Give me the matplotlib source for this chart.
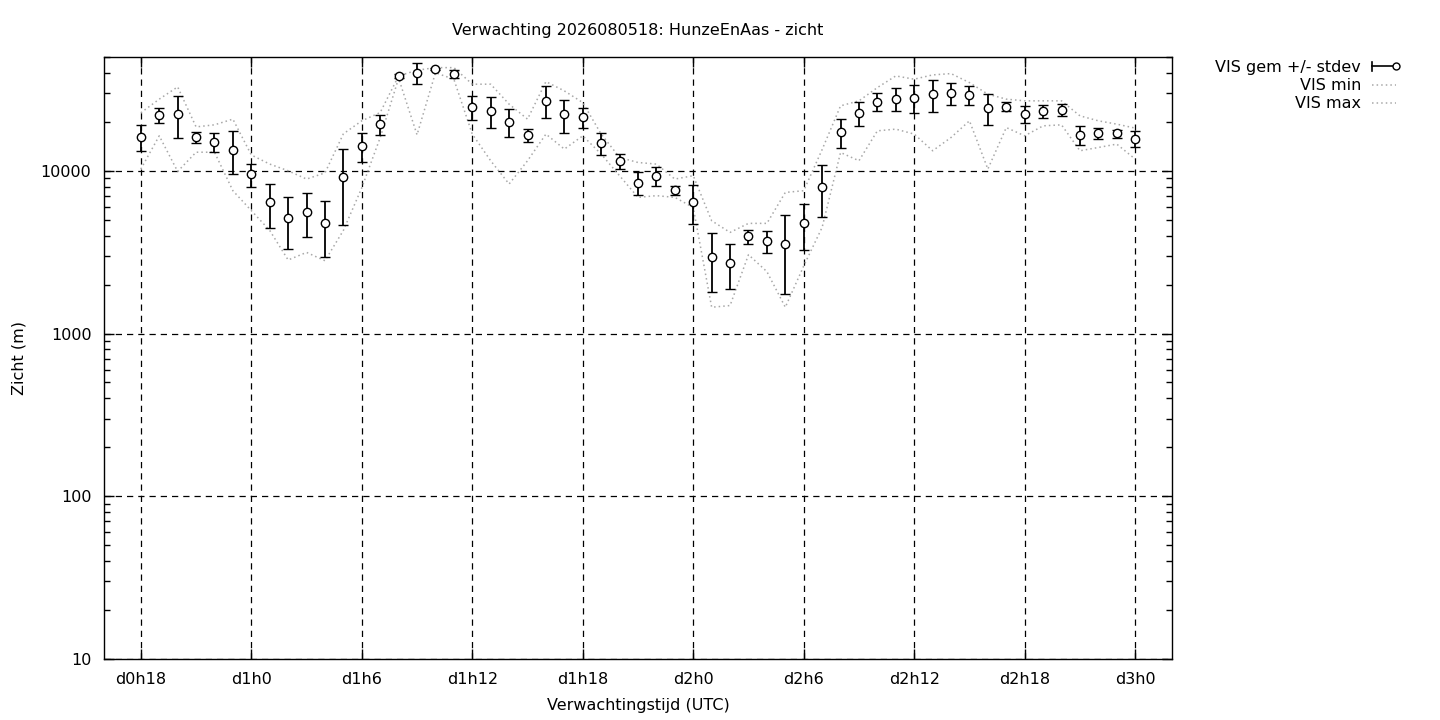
import numpy as np
import matplotlib
matplotlib.use('Agg')
import matplotlib.pyplot as plt
from matplotlib.lines import Line2D
from matplotlib.legend_handler import HandlerBase
from matplotlib.ticker import LogLocator, NullFormatter

# lead time in hours (d0h18 .. d3h0)
hours = np.arange(18, 73)

vis_mean = [16100, 22000, 22300, 16100, 15000, 13500,
            9500, 6400, 5100, 5600, 4750, 9100, 14200, 19300, 38100, 40000, 42200, 39500,
            24600, 23300, 20000, 16600, 27000, 22200, 21300, 14750, 11500, 8450, 9300, 7570,
            6420, 2960, 2720, 3950, 3690, 3550, 4750, 8000, 17300, 22600, 26600, 27700,
            28000, 29500, 30000, 29200, 24300, 24800, 22300, 23200, 23650, 16550, 17050, 16950,
            15750]
vis_sd = [2900, 2400, 6400, 1250, 2000, 4000,
          1500, 1950, 1800, 1660, 1780, 4430, 2840, 2660, 1000, 6000, 700, 2300,
          4100, 4940, 3800, 1560, 6000, 5200, 3100, 2270, 1265, 1385, 1210, 445,
          1710, 1160, 830, 400, 557, 1800, 1490, 2790, 3490, 3800, 3365, 4460,
          5500, 6545, 4560, 3890, 5200, 1580, 2660, 2125, 2000, 2160, 1390, 955,
          1770]
vis_min = [10240, 16390, 9900, 13000, 13000, 7540,
           5690, 4300, 2830, 3150, 2800, 4300, 7860, 16000, 37000, 16630, 40000, 36500,
           16800, 11520, 8290, 11520, 16800, 13590, 16390, 12660, 9320, 6860, 7030, 6860,
           5950, 1450, 1485, 3050, 2400, 1450, 2600, 4490, 12950, 11520, 17590, 18020,
           16800, 13270, 16010, 20270, 10240, 18430, 16390, 18880, 19150, 13270, 13900, 14580,
           11800]
vis_max = [22700, 27540, 32760, 18600, 19150, 20760,
           12500, 10990, 10000, 8890, 9700, 16860, 20270, 22790, 38260, 41470, 43020, 43020,
           34030, 34030, 25660, 20760, 35300, 30960, 26240, 16800, 12070, 11240, 10990, 8890,
           9320, 4930, 4180, 4750, 4750, 7360, 7540, 13500, 25050, 26890, 32440, 38260,
           36520, 38810, 39540, 34810, 29550, 27540, 26890, 26890, 26890, 21750, 20270, 19340,
           18280]

tick_hours = [18, 24, 30, 36, 42, 48, 54, 60, 66, 72]
tick_labels = ['d0h18', 'd1h0', 'd1h6', 'd1h12', 'd1h18', 'd2h0', 'd2h6', 'd2h12', 'd2h18', 'd3h0']
y_ticks = [10, 100, 1000, 10000]
y_labels = ['10', '100', '1000', '10000']


class ErrHandler(HandlerBase):
    # gnuplot style key sample: line with cap on the left, circle on the right
    def create_artists(self, legend, orig_handle, xdescent, ydescent, width, height, fontsize, trans):
        y = height / 2 - ydescent
        x0, x1 = -xdescent, width - xdescent
        line = Line2D([x0, x1], [y, y], color='k', lw=1.2)
        cap = Line2D([x0, x0], [y - 3, y + 3], color='k', lw=1.2)
        dot = Line2D([x1], [y], marker='o', ms=5, mfc='white', mec='k', mew=1)
        for a in (line, cap, dot):
            a.set_transform(trans)
        return [line, cap, dot]


plt.rcParams['font.family'] = ['DejaVu Sans']
plt.rcParams['font.size'] = 11.5

fig = plt.figure(figsize=(14.4, 7.2), dpi=100)
ax = fig.add_axes([104 / 1440, 1 - 659 / 720, (1172 - 104) / 1440, (659 - 57) / 720])

gray = '#a8a8a8'
eb = ax.errorbar(hours, vis_mean, yerr=vis_sd, fmt='o', color='k', mfc='white', mec='k',
                 ms=6, mew=1, capsize=3.5, elinewidth=1.3, capthick=1.3, zorder=4)
l_min, = ax.plot(hours, vis_min, color=gray, ls=(0, (1, 2)), lw=1.1, zorder=3)
l_max, = ax.plot(hours, vis_max, color=gray, ls=(0, (1, 2)), lw=1.1, zorder=3)

ax.set_yscale('log')
ax.set_ylim(10, 50000)
ax.set_xlim(16, 74)
ax.set_yticks(y_ticks)
ax.set_yticklabels(y_labels)
ax.yaxis.set_minor_locator(LogLocator(base=10, subs=np.arange(2, 10)))
ax.yaxis.set_minor_formatter(NullFormatter())
ax.set_xticks(tick_hours)
ax.set_xticklabels(tick_labels)

ax.tick_params(which='both', direction='in', top=True, right=True)
ax.tick_params(which='major', length=7, width=1, pad=9)
ax.tick_params(which='minor', length=4, width=1)
ax.grid(True, which='major', color='k', ls=(0, (5, 4)), lw=0.9)
ax.set_axisbelow(True)
for s in ax.spines.values():
    s.set_linewidth(1)

ax.set_title('Verwachting 2026080518: HunzeEnAas - zicht', fontsize=11.5, pad=16)
ax.set_xlabel('Verwachtingstijd (UTC)', labelpad=8)
ax.set_ylabel('Zicht (m)', labelpad=10)

ax.legend([eb, l_min, l_max], ['VIS gem +/- stdev', 'VIS min', 'VIS max'],
          handler_map={type(eb): ErrHandler()},
          loc='upper right', bbox_to_anchor=(1404 / 1440, 1 - 52 / 720),
          bbox_transform=fig.transFigure, frameon=False, markerfirst=False,
          borderpad=0, labelspacing=0.2, handlelength=1.5, handletextpad=0.7)

fig.savefig('out.png', dpi=100)
